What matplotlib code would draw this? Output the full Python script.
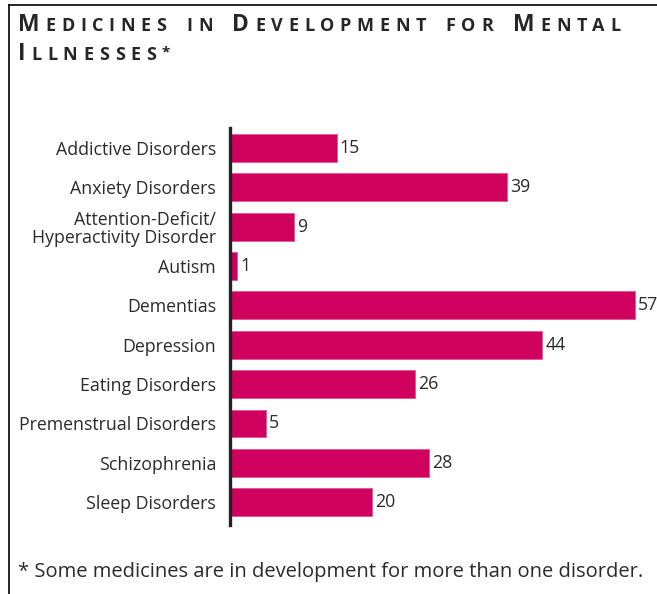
import matplotlib
matplotlib.use('Agg')
import matplotlib.pyplot as plt
from matplotlib.lines import Line2D

categories = ["Addictive Disorders", "Anxiety Disorders",
              "Attention-Deficit/\nHyperactivity Disorder", "Autism",
              "Dementias", "Depression", "Eating Disorders",
              "Premenstrual Disorders", "Schizophrenia", "Sleep Disorders"]
values = [15, 39, 9, 1, 57, 44, 26, 5, 28, 20]
title_line1 = "Medicines in Development for Mental"
title_line2 = "Illnesses*"
footnote = "* Some medicines are in development for more than one disorder."

W, H = 657, 594
FONT = 'Open Sans'
TXT = '#2a2a2a'
BAR = '#D0005E'

fig = plt.figure(figsize=(W / 100, H / 100), dpi=100)
fig.patch.set_facecolor('white')

ax = fig.add_axes([230 / W, (H - 525) / H, (W - 230) / W, 397 / H])
ypos = list(range(len(categories)))
ax.barh(ypos, values, height=0.71, color=BAR, edgecolor='#e0588f', linewidth=0.6)
ax.set_xlim(0, (W - 230) / 7.1)
ax.set_ylim(9.58, -0.51)
for s in ['top', 'right', 'bottom']:
    ax.spines[s].set_visible(False)
ax.spines['left'].set_linewidth(2.4)
ax.spines['left'].set_color('#222222')
ax.set_xticks([])
ax.set_yticks(ypos)
ax.set_yticklabels(categories, fontsize=12.8, family=FONT, color=TXT,
                   linespacing=1.05)
ax.tick_params(axis='y', length=0, pad=10)
for i, v in enumerate(values):
    ax.text(v + 0.45, i, str(v), va='center', ha='left', fontsize=12.8,
            family=FONT, color=TXT, clip_on=False)

renderer = fig.canvas.get_renderer()


def smallcaps(text, x0, ybase, big=16.5, small=13, track=5.7, space=14):
    x = x0
    for word in text.split(' '):
        for ch in word:
            if ch.isupper():
                size, c = big, ch
            elif ch == '*':
                size, c = 11, ch
            else:
                size, c = small, ch.upper()
            yy = ybase - 4 if ch == '*' else ybase
            t = fig.text(x / W, 1 - yy / H, c, fontsize=size, family=FONT,
                         color='#262626', va='baseline', ha='left',
                         weight='bold')
            bb = t.get_window_extent(renderer)
            x += bb.width + track
        x += space


smallcaps(title_line1, 18, 31)
smallcaps(title_line2, 18, 60)

fig.text(18 / W, 1 - 572 / H, footnote, fontsize=14.5, family=FONT, color=TXT,
         va='center', ha='left')

fig.add_artist(Line2D([8.5 / W, 8.5 / W], [0, 1 - 5 / H], transform=fig.transFigure,
                      color='black', lw=1.2))
fig.add_artist(Line2D([8.5 / W, 1], [1 - 5 / H, 1 - 5 / H], transform=fig.transFigure,
                      color='black', lw=1.2))

fig.savefig('out.png', dpi=100)
